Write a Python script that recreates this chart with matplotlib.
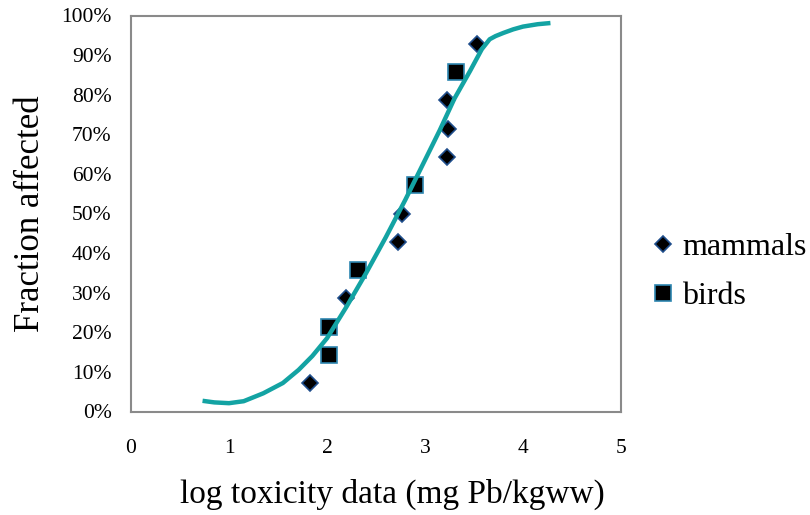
import matplotlib
matplotlib.use("Agg")
import matplotlib.pyplot as plt
from matplotlib.ticker import PercentFormatter

# Species sensitivity data: log toxicity (mg Pb/kg ww) vs. cumulative fraction affected
mammals_x = [1.83, 2.19, 2.72, 2.77, 3.22, 3.23, 3.22, 3.53]
mammals_y = [0.071, 0.286, 0.429, 0.500, 0.643, 0.714, 0.786, 0.929]

birds_x = [2.02, 2.02, 2.32, 2.90, 3.32]
birds_y = [0.143, 0.214, 0.357, 0.571, 0.857]

# Fitted distribution curve
curve_x = [0.73, 0.85, 1.00, 1.15, 1.35, 1.55, 1.71, 1.85, 2.00, 2.20, 2.40,
           2.60, 2.80, 3.00, 3.15, 3.30, 3.46, 3.58, 3.66, 3.72, 3.80, 3.90,
           4.00, 4.15, 4.28]
curve_y = [0.027, 0.023, 0.021, 0.026, 0.046, 0.072, 0.105, 0.140, 0.185,
           0.265, 0.350, 0.440, 0.535, 0.635, 0.710, 0.790, 0.860, 0.915,
           0.940, 0.948, 0.956, 0.965, 0.972, 0.978, 0.981]

x_ticks = [0, 1, 2, 3, 4, 5]
y_ticks = [0.0, 0.1, 0.2, 0.3, 0.4, 0.5, 0.6, 0.7, 0.8, 0.9, 1.0]

plt.rcParams["font.family"] = ["Liberation Serif", "DejaVu Serif"]

fig = plt.figure(figsize=(8.10, 5.15), dpi=100)
ax = fig.add_axes([131 / 810, 1 - 411.5 / 515, 490 / 810, 396 / 515])

ax.plot(curve_x, curve_y, color="#13A3A3", lw=3.2, solid_capstyle="butt",
        zorder=3)
ax.plot(mammals_x, mammals_y, linestyle="none", marker="D", markersize=8.5,
        markerfacecolor="black", markeredgecolor="#1F4E8C",
        markeredgewidth=1.2, label="mammals", zorder=2)
ax.plot(birds_x, birds_y, linestyle="none", marker="s", markersize=11,
        markerfacecolor="black", markeredgecolor="#2E86B0",
        markeredgewidth=1.2, label="birds", zorder=2)

ax.set_xlim(0, 5)
ax.set_ylim(0, 1)
ax.set_xticks(x_ticks)
ax.set_yticks(y_ticks)
ax.yaxis.set_major_formatter(PercentFormatter(xmax=1, decimals=0))
ax.tick_params(axis="both", length=0, labelsize=15.5)
ax.tick_params(axis="x", pad=20)
ax.tick_params(axis="y", pad=14)

for side in ax.spines.values():
    side.set_color("#8A8A8A")
    side.set_linewidth(1.5)

ax.set_xlabel("log toxicity data (mg Pb/kgww)", fontsize=24, labelpad=15)
ax.xaxis.label.set_x((392 - 131) / 490)
ax.set_ylabel("Fraction affected", fontsize=25, labelpad=10)

fig.legend(loc="center left", bbox_to_anchor=(650 / 810, 1 - 272 / 515),
           frameon=False, fontsize=23, handlelength=0.8, handletextpad=0.2,
           borderpad=0, labelspacing=0.6, borderaxespad=0)

fig.savefig("out.png", dpi=100)
